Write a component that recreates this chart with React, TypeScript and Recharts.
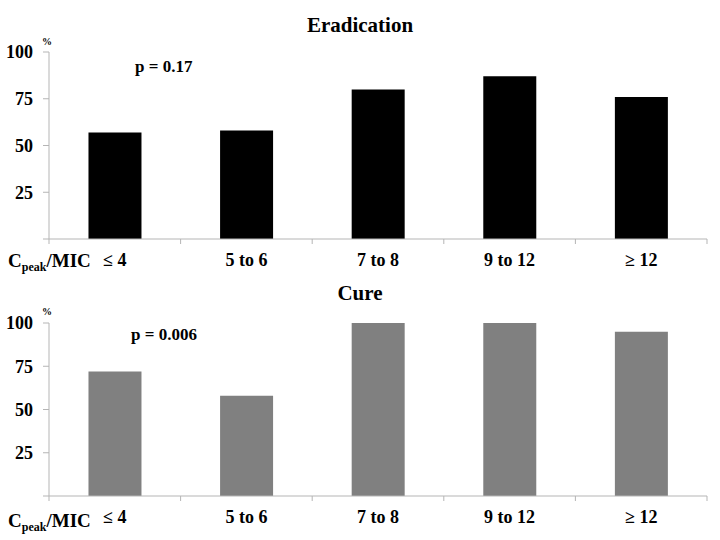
import React from 'react';
import { BarChart, Bar, XAxis, YAxis } from 'recharts';

const categories = ['≤ 4', '5 to 6', '7 to 8', '9 to 12', '≥ 12'];
const eradication = [57, 58, 80, 87, 76];
const cure = [72, 58, 100, 100, 95];
const yTicks = [0, 25, 50, 75, 100];

const FONT = '"Liberation Serif", "Times New Roman", Times, serif';
const AXIS_GRAY = '#b5b5b5';

function BandTick(props: any) {
  const { x, y, payload, index, visibleTicksCount, width } = props;
  const half = payload?.offset ?? (width && visibleTicksCount ? width / visibleTicksCount / 2 : 0);
  const last = index === visibleTicksCount - 1;
  return (
    <g>
      <line x1={x - half} x2={x - half} y1={y} y2={y + 5} stroke={AXIS_GRAY} />
      {last && <line x1={x + half} x2={x + half} y1={y} y2={y + 5} stroke={AXIS_GRAY} />}
      <text
        x={x}
        y={y + 27}
        textAnchor="middle"
        style={{ fontFamily: FONT, fontWeight: 'bold', fontSize: 18 }}
        fill="#000"
      >
        {payload.value}
      </text>
    </g>
  );
}

function Panel({ values, color, top, bottom }: { values: number[]; color: string; top: number; bottom: number }) {
  const data = categories.map((c, i) => ({ cat: c, value: values[i] }));
  return (
    <BarChart
      width={720}
      height={270}
      data={data}
      margin={{ top, right: 13, bottom, left: 0 }}
      barCategoryGap="30%"
    >
      <XAxis
        dataKey="cat"
        height={30}
        tickLine={false}
        tickSize={0}
        tickMargin={0}
        axisLine={{ stroke: AXIS_GRAY }}
        tick={<BandTick />}
        interval={0}
      />
      <YAxis
        width={49}
        domain={[0, 100]}
        ticks={yTicks}
        tickSize={6}
        tickMargin={10}
        tickLine={{ stroke: AXIS_GRAY }}
        axisLine={{ stroke: AXIS_GRAY }}
        tickFormatter={(v: number) => (v === 0 ? '' : String(v))}
        tick={{ style: { fontFamily: FONT, fontWeight: 'bold', fontSize: 18 }, fill: '#000' }}
      />
      <Bar dataKey="value" fill={color} isAnimationActive={false} />
    </BarChart>
  );
}

const text = (extra: React.CSSProperties): React.CSSProperties => ({
  position: 'absolute',
  fontFamily: FONT,
  fontWeight: 'bold',
  color: '#000',
  whiteSpace: 'nowrap',
  ...extra,
});

function XLabel({ top }: { top: number }) {
  return (
    <div style={text({ left: 8, top, fontSize: 19, lineHeight: '19px' })}>
      C<sub style={{ fontSize: 12, verticalAlign: '-4px', lineHeight: 0 }}>peak</sub>/MIC
    </div>
  );
}

export default function App() {
  return (
    <div style={{ position: 'absolute', left: 0, top: 0, width: 720, height: 540, background: '#fff' }}>
      <div style={{ position: 'absolute', left: 0, top: 0 }}>
        <Panel values={eradication} color="#000000" top={52} bottom={1} />
      </div>
      <div style={{ position: 'absolute', left: 0, top: 270 }}>
        <Panel values={cure} color="#808080" top={53} bottom={14} />
      </div>

      <div style={text({ left: 0, width: 720, textAlign: 'center', top: 14, fontSize: 21, lineHeight: '22px' })}>
        Eradication
      </div>
      <div style={text({ left: 0, width: 720, textAlign: 'center', top: 282, fontSize: 21, lineHeight: '22px' })}>
        Cure
      </div>

      <div style={text({ left: 42, top: 37, fontSize: 10, lineHeight: '10px' })}>%</div>
      <div style={text({ left: 42, top: 307, fontSize: 10, lineHeight: '10px' })}>%</div>

      <div style={text({ left: 135, top: 58, fontSize: 17, lineHeight: '17px' })}>p = 0.17</div>
      <div style={text({ left: 131, top: 326, fontSize: 17, lineHeight: '17px' })}>p = 0.006</div>

      <XLabel top={251} />
      <XLabel top={511} />
    </div>
  );
}
